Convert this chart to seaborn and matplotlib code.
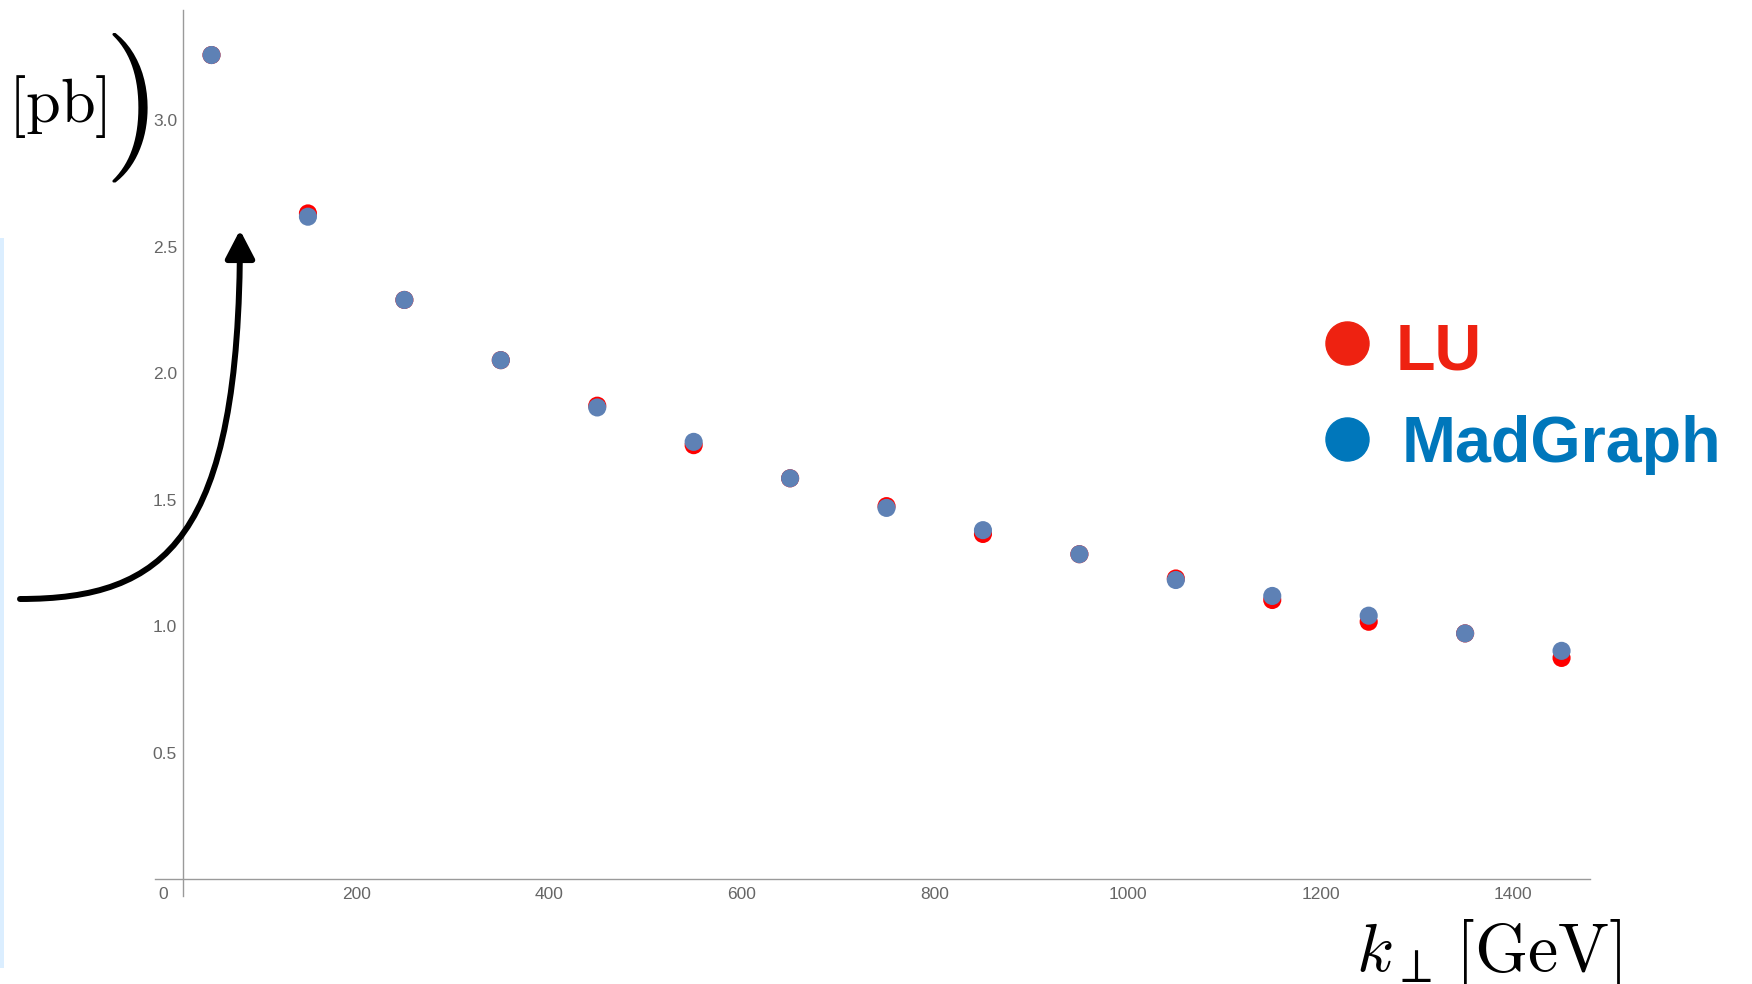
import numpy as np
import pandas as pd
import seaborn as sns
import matplotlib.pyplot as plt
from matplotlib.lines import Line2D
from matplotlib.patches import FancyArrowPatch, Rectangle
from matplotlib.path import Path
from matplotlib.ticker import FixedLocator

sns.set_theme(style="white")
plt.rcParams['font.family'] = ['Liberation Sans', 'DejaVu Sans']
plt.rcParams['mathtext.fontset'] = 'cm'

# data
k_perp = [50, 150, 250, 350, 450, 550, 650, 750, 850, 950, 1050, 1150, 1250, 1350, 1450]
lu = [3.257, 2.631, 2.289, 2.051, 1.871, 1.715, 1.584, 1.474, 1.364, 1.284,
      1.188, 1.103, 1.017, 0.971, 0.874]
madgraph = [3.257, 2.618, 2.289, 2.051, 1.864, 1.728, 1.584, 1.467, 1.379, 1.284,
            1.182, 1.119, 1.041, 0.971, 0.902]
series_names = ["LU", "MadGraph"]
x_major = [0, 200, 400, 600, 800, 1000, 1200, 1400]
y_major = [0.5, 1.0, 1.5, 2.0, 2.5, 3.0]

df = pd.DataFrame({
    "k": k_perp + k_perp,
    "sigma": lu + madgraph,
    "series": ["LU"] * len(lu) + ["MadGraph"] * len(madgraph),
})

W, H = 1752, 984


def fp(x, y):
    # pixel (from top-left) -> figure fraction
    return x / W, 1 - y / H


fig = plt.figure(figsize=(W / 100, H / 100), dpi=100)
ax = fig.add_axes([155 / W, 88 / H, 1435 / W, 886 / H])

sns.scatterplot(data=df, x="k", y="sigma", hue="series", hue_order=series_names,
                palette={"LU": "#ff0000", "MadGraph": "#5e81b5"},
                s=170, linewidth=0, legend=False, ax=ax, zorder=3)

ax.set_xlim(-8.6, 1479.5)
ax.set_ylim(-0.067, 3.435)
ax.set_xlabel("")
ax.set_ylabel("")

axis_col = "#9a9a9a"
for side in ["top", "right"]:
    ax.spines[side].set_visible(False)
ax.spines["left"].set_position(("data", 20.7))
ax.spines["bottom"].set_position(("data", 0))
for side in ["left", "bottom"]:
    ax.spines[side].set_color(axis_col)
    ax.spines[side].set_linewidth(1.0)

ax.xaxis.set_major_locator(FixedLocator(x_major))
ax.xaxis.set_minor_locator(FixedLocator([v for v in range(0, 1451, 50) if v % 200]))
ax.yaxis.set_major_locator(FixedLocator(y_major))
ax.yaxis.set_minor_locator(FixedLocator([round(v * 0.1, 1) for v in range(1, 35) if v % 5]))
ax.set_xticklabels([str(v) for v in x_major])
ax.set_yticklabels([f"{v:.1f}" for v in y_major])

ax.tick_params(axis="both", which="both", direction="in", color=axis_col,
               labelcolor="#666666", labelsize=12.5, width=0.8)
ax.tick_params(axis="both", which="major", length=5)
ax.tick_params(axis="both", which="minor", length=3)
ax.tick_params(axis="x", which="major", pad=6)
ax.tick_params(axis="y", which="major", pad=4.5)
ax.grid(False)

# legend drawn by hand
fig.add_artist(Line2D([fp(1347, 343)[0]], [fp(1347, 343)[1]], marker="o", markersize=31,
                      color="#ee2211", linewidth=0, transform=fig.transFigure))
fig.add_artist(Line2D([fp(1347, 439)[0]], [fp(1347, 439)[1]], marker="o", markersize=31,
                      color="#0077bb", linewidth=0, transform=fig.transFigure))
fig.text(*fp(1396, 369), "LU", color="#ee2211", fontsize=46.5, fontweight="bold",
         ha="left", va="baseline")
fig.text(*fp(1402, 462), "MadGraph", color="#0077bb", fontsize=46.5, fontweight="bold",
         ha="left", va="baseline")

# cut-off axis labels
fig.text(*fp(8, 122), r"$[\mathrm{pb}]$", fontsize=45, color="black", ha="left", va="baseline")
fig.text(*fp(103, 145), r"$)$", fontsize=108, color="black", ha="left", va="baseline")
fig.text(*fp(1622, 971), r"$k_\perp\,[\mathrm{GeV}]$", fontsize=49, color="black",
         ha="right", va="baseline")

# curved arrow
verts = [fp(20, 599), fp(165, 599), fp(240, 540), fp(240, 230)]
arrow_path = Path(verts, [Path.MOVETO, Path.CURVE4, Path.CURVE4, Path.CURVE4])
arrow = FancyArrowPatch(path=arrow_path, arrowstyle="-|>,head_length=0.5,head_width=0.26",
                        mutation_scale=34, linewidth=4.3, color="black",
                        transform=fig.transFigure)
fig.add_artist(arrow)

# light blue strip at the left edge
fig.add_artist(Rectangle(fp(0, 968), 4 / W, 730 / H, transform=fig.transFigure,
                         facecolor="#dbeeff", edgecolor="none"))

fig.savefig("out.png", dpi=100)
